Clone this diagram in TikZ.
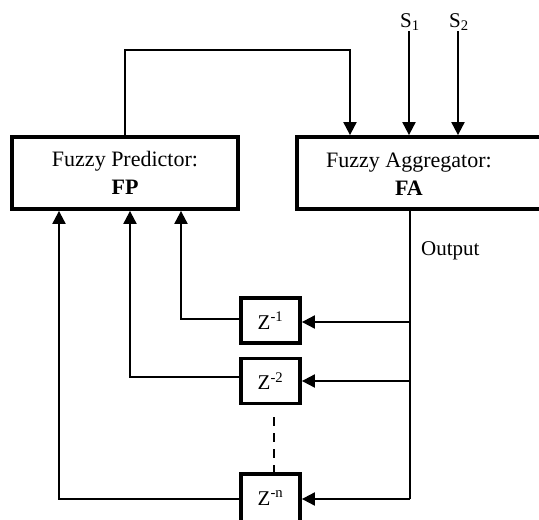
\documentclass[tikz,border=0pt]{standalone}
\usepackage{fontspec}
\setmainfont{Liberation Serif}
\usetikzlibrary{arrows.meta}
\tikzset{
  blockbox/.style={draw, line width=3.8pt, inner sep=0pt, align=center, font=\fontsize{22}{27}\selectfont},
  zbox/.style={draw, line width=3.8pt, inner sep=0pt, minimum width=59pt, minimum height=45pt, font=\fontsize{21}{24}\selectfont},
  conn/.style={line width=2pt},
  arr/.style={conn, -{Triangle[length=13pt,width=13pt]}},
  lbl/.style={inner sep=0pt, font=\fontsize{21}{25}\selectfont}
}
\begin{document}
\begin{tikzpicture}[x=1pt,y=-1pt]
\clip (0,0) rectangle (539,520);
\fill[white] (0,0) rectangle (539,520);
% main blocks
\node[blockbox, minimum width=226pt, minimum height=72pt] (fp) at (125,173) {Fuzzy Predictor:\\[1pt]\textbf{FP}};
\node[blockbox, minimum width=250pt, minimum height=72pt] (fa) at (422,173) {};
\node[inner sep=0pt, align=center, font=\fontsize{22}{27}\selectfont] (fatext) at (409,174) {Fuzzy Aggregator:\\[1pt]\textbf{FA}};
% inputs
\node[lbl, anchor=south] (s1) at (410,31) {S\textsubscript{1}};
\node[lbl, anchor=south] (s2) at (459,31) {S\textsubscript{2}};
\draw[arr] (s1.south -| 409,0) -- (fa.north -| 409,0);
\draw[arr] (s2.south -| 458,0) -- (fa.north -| 458,0);
% FP -> FA feedback over the top
\coordinate (top) at (350,50);
\draw[arr] (fp.north) |- (top) -- (top |- fa.north);
% delay blocks
\node[zbox] (z1) at (270.5,320.5) {Z\textsuperscript{-1}};
\node[zbox] (z2) at (270.5,381) {Z\textsuperscript{-2}};
\node[zbox, minimum height=48pt] (zn) at (270.5,498) {Z\textsuperscript{-n}};
% output line
\coordinate (ob) at (410,499);
\draw[conn] (fa.south -| ob) -- (ob);
\node[lbl, anchor=west] (out) at (421,251) {Output};
% output -> delays
\draw[arr] (410,322) coordinate (o1) -- (o1 -| z1.east);
\draw[arr] (410,381) coordinate (o2) -- (o2 -| z2.east);
\draw[arr] (ob) -- (ob -| zn.east);
% delays -> FP
\coordinate (f1) at (181,0);
\coordinate (f2) at (130,0);
\coordinate (fn) at (59,0);
\draw[arr] ([yshift=1.5pt]z1.west) -| (fp.south -| f1);
\draw[arr] ([yshift=4pt]z2.west) -| (fp.south -| f2);
\draw[arr] ([yshift=-1pt]zn.west) -| (fp.south -| fn);
% ellipsis
\draw[conn, dash pattern=on 9pt off 7pt] ([xshift=3.5pt, yshift=-12pt]z2.south) -- ([xshift=3.5pt]zn.north);
\end{tikzpicture}
\end{document}
